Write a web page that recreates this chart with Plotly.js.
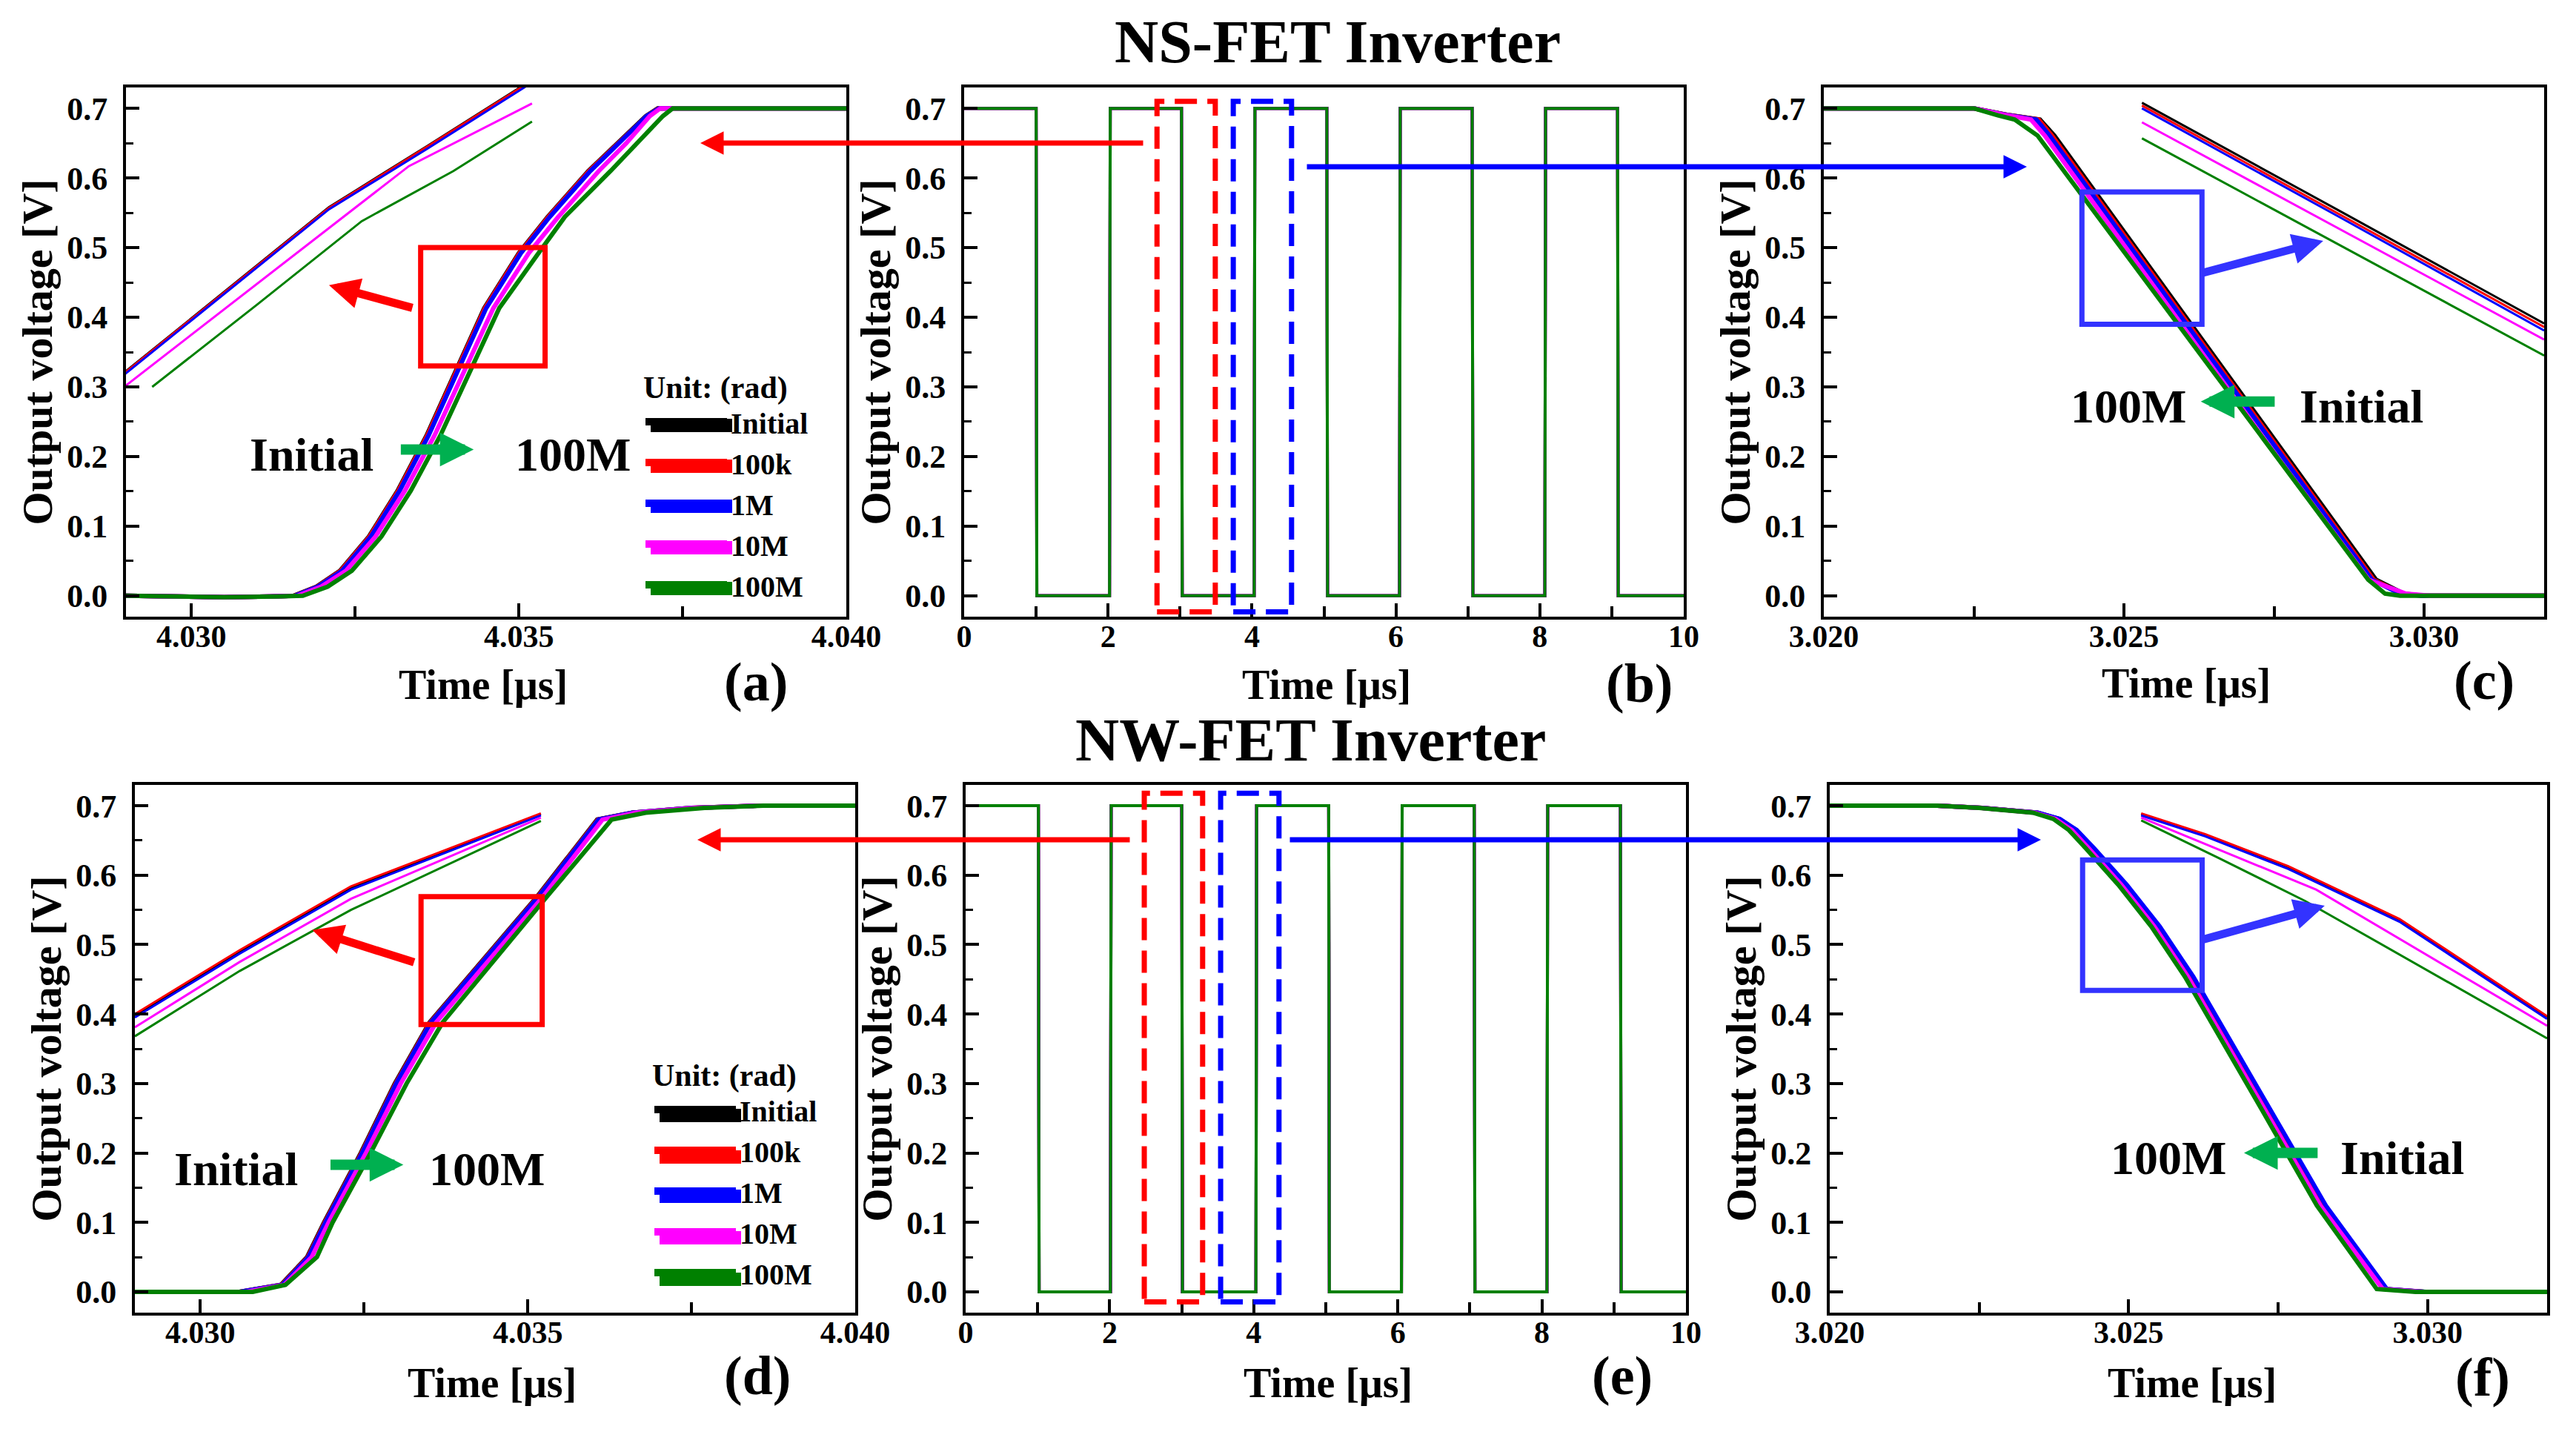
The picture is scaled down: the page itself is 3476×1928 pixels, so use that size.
<!DOCTYPE html>
<html><head><meta charset="utf-8">
<script src="https://cdn.plot.ly/plotly-3.0.1.min.js"></script>
<style>html,body{margin:0;padding:0;background:#fff}#chart{width:3476px;height:1928px}</style>
</head><body><div id="chart"></div>
<script>
// ---------- series ----------
const SERIES = ['Initial', '100k', '1M', '10M', '100M'];
const COLORS = ['#000000', '#ff0000', '#0000ff', '#ff00ff', '#008000'];

// ---------- (a) NS-FET rising edge ----------
const nsRiseV = [0, -0.002, -0.001, 0, 0.013, 0.036, 0.085, 0.151, 0.23, 0.32, 0.413, 0.492, 0.544, 0.61, 0.65, 0.689, 0.7, 0.7];
const nsRiseT = [
  [4.029, 4.0305, 4.0312, 4.03156, 4.03191, 4.03227, 4.03271, 4.03315, 4.03359, 4.03403, 4.03447, 4.0350, 4.03544, 4.03606, 4.0365, 4.03694, 4.03712, 4.040],
  [4.029, 4.0305, 4.0312, 4.03157, 4.03192, 4.03228, 4.03272, 4.03316, 4.0336, 4.03404, 4.03448, 4.03501, 4.03545, 4.03607, 4.03651, 4.03695, 4.03713, 4.040],
  [4.029, 4.0305, 4.0312, 4.03158, 4.03193, 4.0323, 4.03274, 4.03318, 4.03362, 4.03406, 4.0345, 4.03503, 4.03547, 4.03609, 4.03652, 4.03695, 4.03714, 4.040],
  [4.029, 4.0305, 4.0312, 4.03162, 4.03198, 4.03236, 4.03281, 4.03326, 4.03371, 4.03416, 4.03461, 4.03515, 4.0356, 4.03622, 4.03664, 4.037, 4.03716, 4.040],
  [4.029, 4.0305, 4.0313, 4.0317, 4.03208, 4.03245, 4.0329, 4.03335, 4.0338, 4.03425, 4.0347, 4.0353, 4.0357, 4.0364, 4.0368, 4.0372, 4.03735, 4.040]
];
// (a) magnified inset lines
const nsRiseZoomT = [
  [4.0289, 4.0305, 4.0321, 4.0336, 4.0351],
  [4.0289, 4.0305, 4.0321, 4.0336, 4.0351],
  [4.0289, 4.0305, 4.0321, 4.0336, 4.0351],
  [4.0290, 4.0306, 4.0322, 4.03332, 4.0352],
  [4.0294, 4.0310, 4.0326, 4.0340, 4.0352]
];
const nsRiseZoomV = [
  [0.315, 0.436, 0.558, 0.646, 0.735],
  [0.314, 0.435, 0.557, 0.645, 0.734],
  [0.312, 0.433, 0.555, 0.642, 0.731],
  [0.302, 0.419, 0.536, 0.617, 0.707],
  [0.300, 0.418, 0.538, 0.610, 0.681]
];

// ---------- (b) NS-FET full transient ----------
const nsWaveT = [0, 1.00, 1.01, 2.02, 2.03, 3.02, 3.03, 4.03, 4.04, 5.04, 5.05, 6.05, 6.06, 7.06, 7.07, 8.07, 8.08, 9.08, 9.09, 10];
const nsWaveV = [0.7, 0.7, 0, 0, 0.7, 0.7, 0, 0, 0.7, 0.7, 0, 0, 0.7, 0.7, 0, 0, 0.7, 0.7, 0, 0];

// ---------- (c) NS-FET falling edge ----------
const nsFallV = [0.7, 0.7, 0.69, 0.684, 0.661, 0.5, 0.344, 0.2, 0.023, 0.003, 0, 0];
const nsFallT = [
  [3.020, 3.0225, 3.0231, 3.0236, 3.02384, 3.02519, 3.0265, 3.02771, 3.0292, 3.02966, 3.0300, 3.032],
  [3.020, 3.0225, 3.0231, 3.02358, 3.0238, 3.02515, 3.02646, 3.02767, 3.02916, 3.02963, 3.02998, 3.032],
  [3.020, 3.0225, 3.02308, 3.02354, 3.02376, 3.02511, 3.02642, 3.02763, 3.02913, 3.0296, 3.02995, 3.032],
  [3.020, 3.0225, 3.02305, 3.02345, 3.02368, 3.02503, 3.02634, 3.02755, 3.02908, 3.0297, 3.0301, 3.032],
  [3.020, 3.0225, 3.0229, 3.02318, 3.02356, 3.02495, 3.0263, 3.02754, 3.02907, 3.02935, 3.0296, 3.032]
];
const nsFallZoomT = [3.0253, 3.02865, 3.032];
const nsFallZoomV = [
  [0.708, 0.550, 0.391],
  [0.704, 0.545, 0.386],
  [0.700, 0.541, 0.381],
  [0.680, 0.524, 0.368],
  [0.657, 0.501, 0.345]
];

// ---------- (d) NW-FET rising edge ----------
const nwRiseV = [0, 0, 0.01, 0.05, 0.1, 0.2, 0.3, 0.388, 0.57, 0.68, 0.69, 0.697, 0.7, 0.7];
const nwRiseT = [
  [4.029, 4.0306, 4.03123, 4.03163, 4.03189, 4.03245, 4.03297, 4.0335, 4.03515, 4.03606, 4.0366, 4.0375, 4.0385, 4.040],
  [4.029, 4.0306, 4.03124, 4.03164, 4.0319, 4.03246, 4.03298, 4.03351, 4.03516, 4.03607, 4.0366, 4.0375, 4.0385, 4.040],
  [4.029, 4.0306, 4.03125, 4.03165, 4.03191, 4.03247, 4.03299, 4.03352, 4.03517, 4.03608, 4.0366, 4.0375, 4.0385, 4.040],
  [4.029, 4.0307, 4.03128, 4.0317, 4.03196, 4.03253, 4.03306, 4.0336, 4.03524, 4.03614, 4.03665, 4.03755, 4.0385, 4.040],
  [4.029, 4.0308, 4.0313, 4.03178, 4.03202, 4.0326, 4.03315, 4.0337, 4.0353, 4.03628, 4.0368, 4.0377, 4.0386, 4.040]
];
const nwRiseZoomT = [4.0290, 4.0306, 4.0323, 4.0352];
const nwRiseZoomV = [
  [0.398, 0.490, 0.582, 0.688],
  [0.400, 0.492, 0.584, 0.689],
  [0.395, 0.487, 0.579, 0.686],
  [0.381, 0.475, 0.566, 0.683],
  [0.368, 0.462, 0.550, 0.678]
];

// ---------- (e) NW-FET full transient ----------
const nwWaveT = [0, 1.01, 1.02, 2.01, 2.02, 3.00, 3.01, 4.03, 4.04, 5.04, 5.05, 6.05, 6.06, 7.06, 7.07, 8.07, 8.08, 9.09, 9.10, 10];
const nwWaveV = [0.7, 0.7, 0, 0, 0.7, 0.7, 0, 0, 0.7, 0.7, 0, 0, 0.7, 0.7, 0, 0, 0.7, 0.7, 0, 0];

// ---------- (f) NW-FET falling edge ----------
const nwFallV = [0.7, 0.7, 0.697, 0.69, 0.681, 0.665, 0.639, 0.586, 0.526, 0.454, 0.289, 0.124, 0.004, 0, 0];
const nwFallT = [
  [3.020, 3.0218, 3.02255, 3.02347, 3.02384, 3.02412, 3.0244, 3.02495, 3.0255, 3.02606, 3.02717, 3.02828, 3.0293, 3.02995, 3.032],
  [3.020, 3.0218, 3.02255, 3.02347, 3.02383, 3.02411, 3.02439, 3.02494, 3.02549, 3.02605, 3.02716, 3.02827, 3.02929, 3.02994, 3.032],
  [3.020, 3.0218, 3.02255, 3.02348, 3.02385, 3.02413, 3.02442, 3.02497, 3.02552, 3.02608, 3.02719, 3.0283, 3.02932, 3.02997, 3.032],
  [3.020, 3.0218, 3.02252, 3.02343, 3.02378, 3.02405, 3.02433, 3.02488, 3.02543, 3.02599, 3.0271, 3.02821, 3.02925, 3.02992, 3.032],
  [3.020, 3.0218, 3.0225, 3.0234, 3.02374, 3.024, 3.02428, 3.02483, 3.02538, 3.02594, 3.02705, 3.02815, 3.02915, 3.0298, 3.032]
];
const nwFallZoomT = [
  [3.02521, 3.02628, 3.02767, 3.02953, 3.032],
  [3.02521, 3.02628, 3.02767, 3.02953, 3.032],
  [3.02521, 3.02628, 3.02767, 3.02953, 3.032],
  [3.02521, 3.02628, 3.02814, 3.032],
  [3.02521, 3.0265, 3.02795, 3.032]
];
const nwFallZoomV = [
  [0.688, 0.658, 0.612, 0.536, 0.396],
  [0.689, 0.659, 0.613, 0.537, 0.397],
  [0.686, 0.656, 0.609, 0.533, 0.393],
  [0.683, 0.645, 0.579, 0.383],
  [0.679, 0.625, 0.563, 0.365]
];

// ---------- tick labels ----------
const Y_TICKS = [0, 0.1, 0.2, 0.3, 0.4, 0.5, 0.6, 0.7];
const RISE_TICKS = [4.030, 4.035, 4.040];
const FALL_TICKS = [3.020, 3.025, 3.030];
const WAVE_TICKS = [0, 2, 4, 6, 8, 10];

// ---------- build ----------
const W = 3476, H = 1928;
const FAM = '"Liberation Serif", "Times New Roman", Times, serif';
const F = (size, color) => ({family: FAM, size: size, color: color || '#000', weight: 'bold'});

const traces = [];
function addLines(xa, ya, Ts, Vs, width, sharedT, sharedV) {
  for (let i = 0; i < SERIES.length; i++) {
    traces.push({
      type: 'scatter', mode: 'lines', xaxis: xa, yaxis: ya,
      x: sharedT ? Ts : Ts[i], y: sharedV ? Vs : Vs[i],
      name: SERIES[i], line: {color: COLORS[i], width: width},
      showlegend: false, hoverinfo: 'skip', cliponaxis: true
    });
  }
}
addLines('x', 'y', nsRiseT, nsRiseV, 6, false, true);
addLines('x', 'y', nsRiseZoomT, nsRiseZoomV, 3, false, false);
addLines('x2', 'y2', nsWaveT, nsWaveV, 4, true, true);
addLines('x3', 'y3', nsFallT, nsFallV, 6, false, true);
addLines('x3', 'y3', nsFallZoomT, nsFallZoomV, 3, true, false);
addLines('x4', 'y4', nwRiseT, nwRiseV, 6, false, true);
addLines('x4', 'y4', nwRiseZoomT, nwRiseZoomV, 3, true, false);
addLines('x5', 'y5', nwWaveT, nwWaveV, 4, true, true);
addLines('x6', 'y6', nwFallT, nwFallV, 6, false, true);
addLines('x6', 'y6', nwFallZoomT, nwFallZoomV, 3, false, false);

// legend entries (one per series, for panels a and d)
['legend', 'legend2'].forEach((lg, k) => {
  for (let i = 0; i < SERIES.length; i++) {
    traces.push({
      type: 'scatter', mode: 'lines', xaxis: k ? 'x4' : 'x', yaxis: k ? 'y4' : 'y',
      x: [null], y: [null], name: SERIES[i], legend: lg,
      line: {color: COLORS[i], width: 10}, showlegend: true, hoverinfo: 'skip'
    });
  }
});

const px = v => v / W;
const py = v => 1 - v / H;

function xAxis(dom, range, ticks, minorDtick, fmt, anchor) {
  return {
    domain: dom, range: range, anchor: anchor,
    tickmode: 'array', tickvals: ticks, tickformat: fmt,
    ticks: 'inside', ticklen: 18, tickwidth: 4, tickcolor: '#000',
    minor: {ticks: 'inside', ticklen: 14, tickwidth: 4, dtick: minorDtick, tick0: ticks[0], tickcolor: '#000', showgrid: false},
    showline: true, linewidth: 4, linecolor: '#000', mirror: true,
    showgrid: false, zeroline: false, tickfont: F(42), ticklabelstandoff: -13
  };
}
function yAxis(dom, anchor) {
  return {
    domain: dom, range: [-0.03, 0.73], anchor: anchor,
    tickmode: 'array', tickvals: Y_TICKS, tickformat: '.1f',
    ticks: 'inside', ticklen: 18, tickwidth: 4, tickcolor: '#000',
    minor: {ticks: 'inside', ticklen: 10, tickwidth: 3, dtick: 0.05, tick0: 0, tickcolor: '#000', showgrid: false},
    showline: true, linewidth: 4, linecolor: '#000', mirror: true,
    showgrid: false, zeroline: false, tickfont: F(44), ticklabelstandoff: 12,
    title: {text: 'Output voltage [V]', font: F(58), standoff: 2}
  };
}

const topDom = [py(832), py(118)];
const botDom = [py(1771), py(1059)];

const LEG1_X = 866, LEG1_Y = 482;
const LEG2_X = 878, LEG2_Y = 1410;

const layout = {
  width: W, height: H,
  margin: {l: 0, r: 0, t: 0, b: 0},
  paper_bgcolor: '#fff', plot_bgcolor: '#fff',
  font: F(40),
  showlegend: true,
  xaxis:  xAxis([px(170), px(1142)], [4.029, 4.040], RISE_TICKS, 0.0025, '.3f', 'y'),
  yaxis:  yAxis(topDom, 'x'),
  xaxis2: xAxis([px(1301), px(2272)], [0, 10], WAVE_TICKS, 1, 'd', 'y2'),
  yaxis2: yAxis(topDom, 'x2'),
  xaxis3: xAxis([px(2461), px(3433)], [3.020, 3.032], FALL_TICKS, 0.0025, '.3f', 'y3'),
  yaxis3: yAxis(topDom, 'x3'),
  xaxis4: xAxis([px(182), px(1154)], [4.029, 4.040], RISE_TICKS, 0.0025, '.3f', 'y4'),
  yaxis4: yAxis(botDom, 'x4'),
  xaxis5: xAxis([px(1303), px(2275)], [0, 10], WAVE_TICKS, 1, 'd', 'y5'),
  yaxis5: yAxis(botDom, 'x5'),
  xaxis6: xAxis([px(2469), px(3437)], [3.020, 3.032], FALL_TICKS, 0.0025, '.3f', 'y6'),
  yaxis6: yAxis(botDom, 'x6'),
  legend: {
    x: px(LEG1_X), y: py(LEG1_Y), xanchor: 'left', yanchor: 'top',
    bgcolor: 'rgba(0,0,0,0)', borderwidth: 0, font: F(40),
    title: {text: 'Unit: (rad)', font: F(42)}, itemwidth: 110, tracegroupgap: 0
  },
  legend2: {
    x: px(LEG2_X), y: py(LEG2_Y), xanchor: 'left', yanchor: 'top',
    bgcolor: 'rgba(0,0,0,0)', borderwidth: 0, font: F(40),
    title: {text: 'Unit: (rad)', font: F(42)}, itemwidth: 110, tracegroupgap: 0
  },
  shapes: [],
  annotations: []
};

// thicker legend swatches laid under the legend's own line samples
const LEG_ROWS1 = [574, 629, 683, 739, 794];
const LEG_ROWS2 = [1505, 1561, 1614, 1670, 1726];
SERIES.forEach((s, i) => {
  layout.shapes.push({type: 'line', xref: 'paper', yref: 'paper', x0: px(LEG1_X + 12), x1: px(LEG1_X + 122),
    y0: py(LEG_ROWS1[i]), y1: py(LEG_ROWS1[i]), line: {color: COLORS[i], width: 18}, layer: 'above'});
  layout.shapes.push({type: 'line', xref: 'paper', yref: 'paper', x0: px(LEG2_X + 12), x1: px(LEG2_X + 122),
    y0: py(LEG_ROWS2[i]), y1: py(LEG_ROWS2[i]), line: {color: COLORS[i], width: 18}, layer: 'above'});
});

const RED = '#ff0000', BLUE = '#3333ff', GREEN = '#00b050';
function rect(xr, yr, x0, x1, y0, y1, color, dash) {
  layout.shapes.push({type: 'rect', xref: xr, yref: yr, x0: x0, x1: x1, y0: y0, y1: y1,
    line: {color: color, width: 7, dash: dash || 'solid'}, fillcolor: 'rgba(0,0,0,0)', layer: 'above'});
}
function arrow(xr, yr, tx, ty, hx, hy, color, w, size) {
  layout.annotations.push({xref: xr, yref: yr, axref: xr, ayref: yr, x: hx, y: hy, ax: tx, ay: ty,
    text: '', showarrow: true, arrowhead: 2, arrowsize: size, arrowwidth: w, arrowcolor: color, standoff: 0, startstandoff: 0});
}
function parrow(txp, hxp, yp, color, w, size) {
  layout.annotations.push({xref: 'paper', yref: 'paper', x: px(hxp), y: py(yp), ax: txp - hxp, ay: 0,
    text: '', showarrow: true, arrowhead: 2, arrowsize: size, arrowwidth: w, arrowcolor: color, standoff: 0, startstandoff: 0});
}
function label(xr, yr, x, y, text, size) {
  layout.annotations.push({xref: xr, yref: yr, x: x, y: y, text: text, showarrow: false, font: F(size), xanchor: 'center', yanchor: 'middle'});
}
const DASH = '30px,14px';

// (a)
rect('x', 'y', 4.0335, 4.0354, 0.33, 0.50, RED);
arrow('x', 'y', 4.03339, 0.413, 4.0321, 0.446, RED, 11, 0.75);
arrow('x', 'y', 4.03318, 0.21, 4.03431, 0.21, GREEN, 14, 0.65);
label('x', 'y', 4.03184, 0.203, 'Initial', 64);
label('x', 'y', 4.03582, 0.203, '100M', 64);
// (b)
rect('x2', 'y2', 2.68, 3.49, -0.023, 0.71, RED, DASH);
rect('x2', 'y2', 3.74, 4.55, -0.023, 0.71, '#0000ff', DASH);
parrow(1544, 945, 193, RED, 7, 0.9);
parrow(1762, 2735, 225, '#0000ff', 7, 0.9);
// (c)
rect('x3', 'y3', 3.0243, 3.0263, 0.39, 0.58, BLUE);
arrow('x3', 'y3', 3.0263, 0.4635, 3.02832, 0.5096, BLUE, 11, 0.75);
arrow('x3', 'y3', 3.02753, 0.279, 3.02628, 0.279, GREEN, 14, 0.65);
label('x3', 'y3', 3.02508, 0.272, '100M', 64);
label('x3', 'y3', 3.02896, 0.272, 'Initial', 64);
// (d)
rect('x4', 'y4', 4.03337, 4.03522, 0.385, 0.569, RED);
arrow('x4', 'y4', 4.03328, 0.474, 4.03171, 0.521, RED, 11, 0.75);
arrow('x4', 'y4', 4.03197, 0.183, 4.0331, 0.183, GREEN, 14, 0.65);
label('x4', 'y4', 4.03054, 0.177, 'Initial', 64);
label('x4', 'y4', 4.03437, 0.177, '100M', 64);
// (e)
rect('x5', 'y5', 2.48, 3.29, -0.0145, 0.718, RED, DASH);
rect('x5', 'y5', 3.54, 4.35, -0.0145, 0.718, '#0000ff', DASH);
parrow(1526, 941, 1133, RED, 7, 0.9);
parrow(1739, 2754, 1133, '#0000ff', 7, 0.9);
// (f)
rect('x6', 'y6', 3.02423, 3.02623, 0.434, 0.622, BLUE);
arrow('x6', 'y6', 3.02623, 0.507, 3.02828, 0.556, BLUE, 11, 0.75);
arrow('x6', 'y6', 3.02818, 0.2, 3.02693, 0.2, GREEN, 14, 0.65);
label('x6', 'y6', 3.02567, 0.193, '100M', 64);
label('x6', 'y6', 3.02958, 0.193, 'Initial', 64);

// x-axis titles (placed to match the reference spacing)
[[652, 924], [1790, 924], [2950, 922], [664, 1866], [1792, 1866], [2958, 1866]]
  .forEach(p => label('paper', 'paper', px(p[0]), py(p[1]), 'Time [μs]', 56));

// titles and panel labels
label('paper', 'paper', px(1805), py(56), 'NS-FET Inverter', 82);
label('paper', 'paper', px(1768), py(998), 'NW-FET Inverter', 82);
[['(a)', 1020, 920], ['(b)', 2212, 922], ['(c)', 3352, 918], ['(d)', 1022, 1856], ['(e)', 2189, 1856], ['(f)', 3350, 1858]]
  .forEach(p => label('paper', 'paper', px(p[1]), py(p[2]), p[0], 74));

Plotly.newPlot('chart', traces, layout, {staticPlot: true, displayModeBar: false});
</script>
</body></html>
